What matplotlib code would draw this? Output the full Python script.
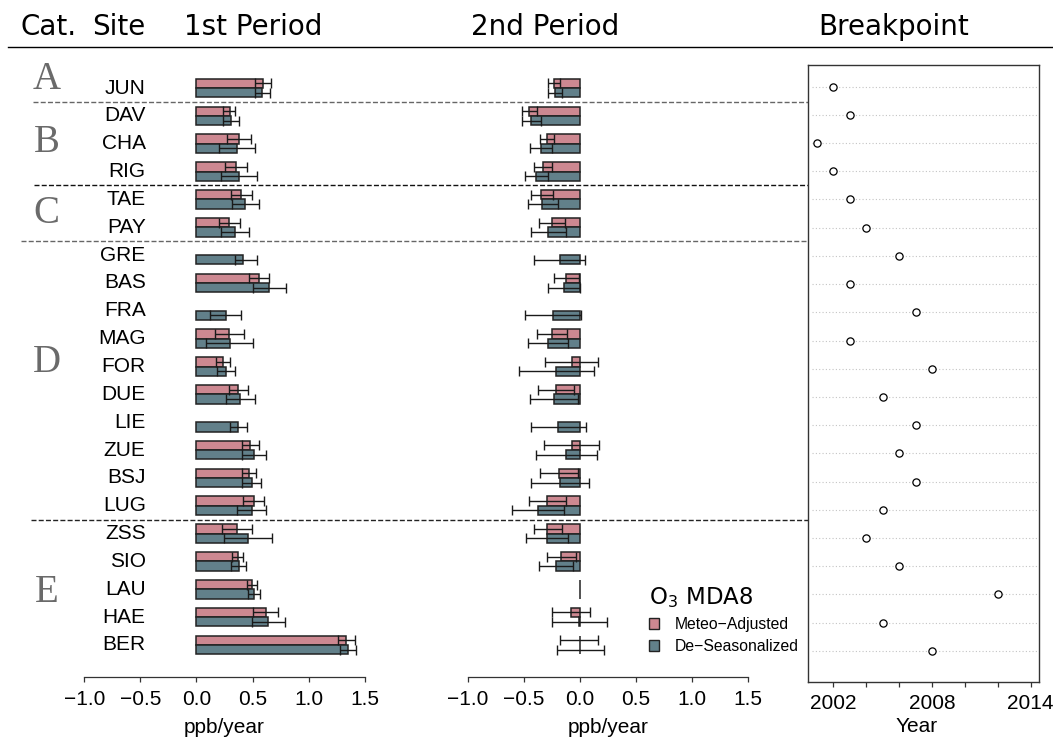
import numpy as np
import matplotlib
matplotlib.use("Agg")
import matplotlib.pyplot as plt
import matplotlib.transforms as mtransforms
from matplotlib.patches import Patch

nan = np.nan

# ---------------- data ----------------
sites = ['JUN', 'DAV', 'CHA', 'RIG', 'TAE', 'PAY', 'GRE', 'BAS', 'FRA', 'MAG', 'FOR',
         'DUE', 'LIE', 'ZUE', 'BSJ', 'LUG', 'ZSS', 'SIO', 'LAU', 'HAE', 'BER']
categories = ['A', 'B', 'C', 'D', 'E']
category_sizes = [1, 3, 2, 10, 5]

# 1st period, meteo-adjusted trend and CI
p1_meteo = [0.593, 0.295, 0.378, 0.354, 0.399, 0.292, nan, 0.554, nan, 0.292, 0.235,
            0.372, nan, 0.479, 0.465, 0.509, 0.363, 0.366, 0.497, 0.617, 1.337]
p1_meteo_lo = [0.524, 0.241, 0.274, 0.256, 0.304, 0.197, nan, 0.465, nan, 0.161, 0.170,
               0.286, nan, 0.408, 0.402, 0.414, 0.229, 0.315, 0.452, 0.506, 1.266]
p1_meteo_hi = [0.662, 0.348, 0.483, 0.452, 0.497, 0.390, nan, 0.649, nan, 0.423, 0.298,
               0.461, nan, 0.554, 0.530, 0.601, 0.492, 0.417, 0.542, 0.724, 1.412]
# 1st period, de-seasonalized
p1_deseas = [0.586, 0.307, 0.363, 0.381, 0.435, 0.345, 0.414, 0.649, 0.259, 0.295, 0.259,
             0.390, 0.372, 0.515, 0.492, 0.492, 0.461, 0.378, 0.512, 0.640, 1.355]
p1_deseas_lo = [0.520, 0.235, 0.199, 0.220, 0.313, 0.217, 0.345, 0.503, 0.125, 0.086, 0.179,
                0.259, 0.295, 0.405, 0.402, 0.363, 0.244, 0.309, 0.456, 0.492, 1.278]
p1_deseas_hi = [0.660, 0.378, 0.524, 0.542, 0.560, 0.470, 0.542, 0.798, 0.393, 0.500, 0.342,
                0.518, 0.447, 0.619, 0.578, 0.619, 0.676, 0.444, 0.569, 0.787, 1.426]

# 2nd period, meteo-adjusted
p2_meteo = [-0.232, -0.452, -0.295, -0.333, -0.345, -0.253, nan, -0.122, nan, -0.253, -0.074,
            -0.217, nan, -0.074, -0.187, -0.292, -0.292, -0.170, -0.001, -0.080, -0.003]
p2_meteo_lo = [-0.283, -0.515, -0.360, -0.414, -0.437, -0.366, nan, -0.232, nan, -0.387, -0.310,
               -0.375, nan, -0.324, -0.354, -0.452, -0.408, -0.298, -0.001, -0.247, -0.176]
p2_meteo_hi = [-0.179, -0.384, -0.232, -0.247, -0.244, -0.134, nan, -0.006, nan, -0.113, 0.161,
               -0.056, nan, 0.170, -0.015, -0.128, -0.164, -0.039, -0.001, 0.089, 0.164]
# 2nd period, de-seasonalized
p2_deseas = [-0.223, -0.435, -0.351, -0.390, -0.336, -0.283, -0.182, -0.143, -0.244, -0.286, -0.211,
             -0.232, -0.193, -0.122, -0.179, -0.375, -0.292, -0.211, -0.001, -0.005, 0.000]
p2_deseas_lo = [-0.286, -0.518, -0.446, -0.494, -0.467, -0.440, -0.408, -0.286, -0.494, -0.461, -0.548,
                -0.443, -0.434, -0.393, -0.437, -0.604, -0.479, -0.366, -0.001, -0.247, -0.208]
p2_deseas_hi = [-0.164, -0.345, -0.250, -0.283, -0.199, -0.128, 0.048, 0.000, 0.009, -0.107, 0.125,
                -0.018, 0.051, 0.155, 0.080, -0.146, -0.104, -0.060, -0.001, 0.238, 0.217]

breakpoint_year = [2002, 2003, 2001, 2002, 2003, 2004, 2006, 2003, 2007, 2003, 2008,
                   2005, 2007, 2006, 2007, 2005, 2004, 2006, 2012, 2005, 2008]

trend_ticks = [-1.0, -0.5, 0.0, 0.5, 1.0, 1.5]
year_ticks = [2002, 2004, 2006, 2008, 2010, 2012, 2014]
year_ticklabels = ['2002', '', '', '2008', '', '', '2014']
series_labels = ['Meteo\u2212Adjusted', 'De\u2212Seasonalized']

# ---------------- style ----------------
W, H = 1053, 740
PINK = '#cd8891'
TEAL = '#62808a'
EDGE = '#222222'
AXC = '#333333'
SANS = 'Liberation Sans'
plt.rcParams['font.family'] = [SANS, 'DejaVu Sans']
plt.rcParams['axes.unicode_minus'] = True

fig = plt.figure(figsize=(W / 100, H / 100), dpi=100)


def rect(x0, x1, ytop, ybot):
    return [x0 / W, 1 - ybot / H, (x1 - x0) / W, (ybot - ytop) / H]


ax1 = fig.add_axes(rect(84.3, 364.7, 64.7, 677.3))
ax2 = fig.add_axes(rect(468.0, 748.0, 64.7, 677.3))
ax3 = fig.add_axes(rect(808.3, 1039.3, 64.7, 681.7))

n = len(sites)
rows = np.arange(n)
bh = 0.334


def draw_period(ax, vals, lo, hi, color, offset):
    v = np.asarray(vals, float)
    l = np.asarray(lo, float)
    h = np.asarray(hi, float)
    m = ~np.isnan(v)
    y = rows[m] + offset
    ax.barh(y, v[m], height=bh, left=0, color=color, edgecolor=EDGE, linewidth=1.1, zorder=2)
    err = np.vstack([v[m] - l[m], h[m] - v[m]])
    big = (err.sum(axis=0) > 0.01)
    ax.errorbar(v[m][big], y[big], xerr=err[:, big], fmt='none', ecolor='#1a1a1a',
                elinewidth=1.0, capsize=3.3, capthick=1.0, zorder=3)


for ax, (mv, ml, mh, dv, dl, dh) in [
        (ax1, (p1_meteo, p1_meteo_lo, p1_meteo_hi, p1_deseas, p1_deseas_lo, p1_deseas_hi)),
        (ax2, (p2_meteo, p2_meteo_lo, p2_meteo_hi, p2_deseas, p2_deseas_lo, p2_deseas_hi))]:
    draw_period(ax, mv, ml, mh, PINK, -bh / 2)
    draw_period(ax, dv, dl, dh, TEAL, bh / 2)
    ax.set_xlim(-1.0, 1.5)
    ax.set_ylim(21.16, -0.837)
    for s in ['left', 'right', 'top']:
        ax.spines[s].set_visible(False)
    ax.spines['bottom'].set_color(AXC)
    ax.spines['bottom'].set_linewidth(0.9)
    ax.set_yticks([])
    ax.set_xticks(trend_ticks)
    ax.set_xticklabels([f'{t:.1f}'.replace('-', '\u2212') for t in trend_ticks])
    ax.tick_params(axis='x', direction='out', length=3.4, width=0.9, color=AXC,
                   labelsize=15, pad=6)
    ax.set_xlabel('ppb/year', fontsize=15, labelpad=6)
    ax.patch.set_visible(False)

# site labels
for i, s in enumerate(sites):
    ax1.text(-0.453, i, s, ha='right', va='center', fontsize=15, family=SANS)

# category letters
cat_label_rows = [-0.29, 1.97, 4.49, 9.84, 18.1]
for c, r in zip(categories, cat_label_rows):
    ax1.text(-1.335, r, c, ha='center', va='center', fontsize=28,
             family='Liberation Serif', color='#6a6a6a', clip_on=False)

# breakpoint panel
ax3.set_xlim(2000.48, 2014.52)
ax3.set_ylim(21.099, -0.780)
ax3.hlines(rows, 2000.7, 2014.45, colors='#c4c4c4', linestyles=(0, (1, 2)), linewidth=0.8, zorder=1)
ax3.plot(breakpoint_year, rows, 'o', mfc='white', mec='black', ms=5.2, mew=0.9, zorder=3)
for s in ax3.spines.values():
    s.set_color(AXC)
    s.set_linewidth(1.0)
ax3.set_yticks([])
ax3.set_xticks(year_ticks)
ax3.set_xticklabels(year_ticklabels)
ax3.tick_params(axis='x', direction='out', length=3.6, width=0.9, color=AXC, labelsize=15, pad=5)
ax3.set_xlabel('Year', fontsize=15)
ax3.xaxis.set_label_coords(0.47, -0.057)

# separators across figure
sep_rows = [0.5, 3.5, 5.5, 15.5]
sep_extent = [(33, 1036), (34, 1036), (21, 1023), (31, 1033)]
sep_colors = ['#666666', '#111111', '#666666', '#222222']
tr = mtransforms.blended_transform_factory(fig.transFigure, ax1.transData)
for r, (x0, x1), c in zip(sep_rows, sep_extent, sep_colors):
    ax1.plot([x0 / W, x1 / W], [r, r], transform=tr, color=c, lw=1.0,
             dashes=(3.6, 1.6), clip_on=False, zorder=5)

# header
HF = 'DejaVu Sans'
fig.text(20.7 / W, 1 - 35 / H, 'Cat.', fontsize=20, family=HF, va='baseline', ha='left')
fig.text(91.7 / W, 1 - 35 / H, 'Site', fontsize=20, family=HF, va='baseline', ha='left')
fig.text(253 / W, 1 - 35 / H, '1st Period', fontsize=20, family=HF, va='baseline', ha='center')
fig.text(545.5 / W, 1 - 35 / H, '2nd Period', fontsize=20, family=HF, va='baseline', ha='center')
fig.text(894 / W, 1 - 35 / H, 'Breakpoint', fontsize=20, family=HF, va='baseline', ha='center')
fig.add_artist(plt.Line2D([8 / W, 1.0], [1 - 46.7 / H, 1 - 46.7 / H], color='black', lw=1.0))

# legend
handles = [Patch(facecolor=PINK, edgecolor=EDGE, linewidth=1.0),
           Patch(facecolor=TEAL, edgecolor=EDGE, linewidth=1.0)]
leg = ax2.legend(handles, series_labels, title='O$_3$ MDA8', loc='upper left',
                 bbox_to_anchor=(649 / W, 1 - 585 / H), bbox_transform=fig.transFigure,
                 frameon=False, prop={'family': SANS, 'size': 11.3},
                 title_fontproperties={'family': 'DejaVu Sans', 'size': 16.5},
                 handlelength=0.65, handleheight=0.65, handletextpad=1.0,
                 labelspacing=0.45, borderpad=0, borderaxespad=0, alignment='left')

fig.savefig('out.png', dpi=100)
